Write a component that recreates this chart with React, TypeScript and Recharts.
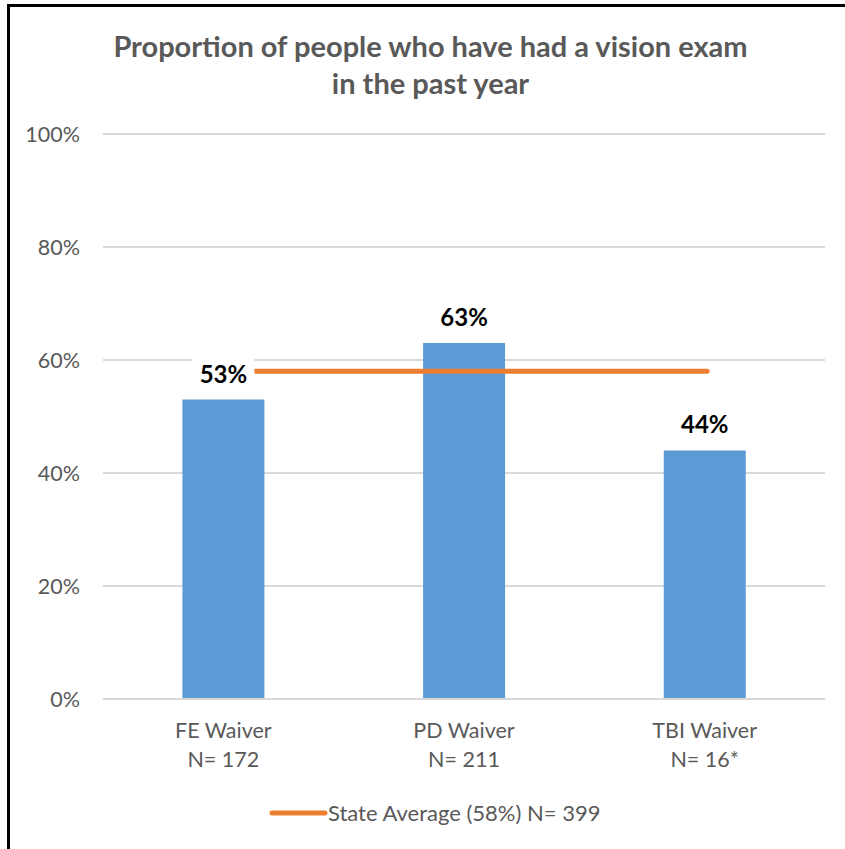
import React from "react";
import {
  ComposedChart,
  Bar,
  Line,
  XAxis,
  YAxis,
  CartesianGrid,
  LabelList,
  Legend,
} from "recharts";

const categories = ["FE Waiver", "PD Waiver", "TBI Waiver"];
const sampleSizes = ["N= 172", "N= 211", "N= 16*"];
const values = [53, 63, 44];
const yTicks = [0, 20, 40, 60, 80, 100];
const stateAverage = 58;
const stateAverageLabel = "State Average (58%) N= 399";
// extent of the state-average line, in category units along the x axis
const avgLineStart = 0.63;
const avgLineEnd = 2.51;

const data = categories.map((c, i) => ({ name: c, n: sampleSizes[i], value: values[i] }));
const avgSegment = [
  { pos: avgLineStart, avg: stateAverage },
  { pos: avgLineEnd, avg: stateAverage },
];

const FONT = "Lato, 'Open Sans', sans-serif";
const GREY = "#595959";
const BLUE = "#5B9BD5";
const ORANGE = "#ED7D31";

const XTick = (props: any) => {
  const { x, y, payload } = props;
  const idx = categories.indexOf(payload.value);
  return (
    <g>
      <text x={x} y={y + 31} textAnchor="middle" fill={GREY} fontSize={21.5} fontFamily={FONT}>
        {payload.value}
      </text>
      <text x={x} y={y + 60} textAnchor="middle" fill={GREY} fontSize={21.5} fontFamily={FONT}>
        {sampleSizes[idx]}
      </text>
    </g>
  );
};

const BarLabel = (props: any) => {
  const { x, y, width, value } = props;
  const cx = x + width / 2;
  return (
    <g>
      <rect x={cx - 31} y={y - 42} width={62} height={32} fill="#fff" />
      <text
        x={cx}
        y={y - 17}
        textAnchor="middle"
        fill="#000"
        fontSize={24}
        fontWeight="bold"
        fontFamily={FONT}
      >
        {value}%
      </text>
    </g>
  );
};

const LegendContent = () => (
  <div style={{ position: "relative", width: 845, height: 30 }}>
    <svg width={845} height={30} style={{ position: "absolute", left: 0, top: 0 }}>
      <line x1={272} y1={16} x2={325} y2={16} stroke={ORANGE} strokeWidth={5} strokeLinecap="round" />
      <text x={328} y={24} fill={GREY} fontSize={22} fontFamily={FONT}>
        {stateAverageLabel}
      </text>
    </svg>
  </div>
);

export default function App() {
  return (
    <div style={{ position: "absolute", left: 0, top: 0, width: 845, height: 849, background: "#fff" }}>
      <div style={{ position: "absolute", left: 7, top: 4, width: 838, height: 3, background: "#000" }} />
      <div style={{ position: "absolute", left: 7, top: 4, width: 3, height: 845, background: "#000" }} />
      <div
        style={{
          position: "absolute",
          left: 0,
          top: 27,
          width: 861,
          textAlign: "center",
          color: GREY,
          fontFamily: FONT,
          fontWeight: "bold",
          fontSize: 29,
          lineHeight: "37px",
          whiteSpace: "nowrap",
        }}
      >
        Proportion of people who have had a vision exam
        <br />
        in the past year
      </div>
      <div style={{ position: "absolute", left: 0, top: 0 }}>
        <ComposedChart
          width={845}
          height={849}
          data={data}
          margin={{ top: 134, right: 20, bottom: 22, left: 0 }}
          barCategoryGap="33%"
        >
          <CartesianGrid vertical={false} stroke="#D9D9D9" strokeWidth={2} />
          <XAxis
            dataKey="name"
            axisLine={{ stroke: "#D9D9D9", strokeWidth: 2 }}
            tickLine={false}
            tick={<XTick />}
            height={98}
            interval={0}
          />
          <XAxis
            xAxisId="pos"
            type="number"
            dataKey="pos"
            domain={[0, 3]}
            allowDataOverflow
            hide
          />
          <YAxis
            domain={[0, 100]}
            ticks={yTicks}
            tickFormatter={(v: number) => `${v}%`}
            axisLine={false}
            tickLine={false}
            tickSize={0}
            tickMargin={23}
            width={103}
            tick={{ fill: GREY, fontSize: 21.5, fontFamily: FONT }}
            interval={0}
          />
          <Bar dataKey="value" fill={BLUE} isAnimationActive={false}>
            <LabelList dataKey="value" content={<BarLabel />} />
          </Bar>
          <Line
            xAxisId="pos"
            data={avgSegment}
            dataKey="avg"
            type="linear"
            stroke={ORANGE}
            strokeWidth={5}
            strokeLinecap="round"
            dot={false}
            activeDot={false}
            isAnimationActive={false}
          />
          <Legend
            verticalAlign="bottom"
            height={30}
            content={<LegendContent />}
            wrapperStyle={{ left: 0, width: 845 }}
          />
        </ComposedChart>
      </div>
    </div>
  );
}
